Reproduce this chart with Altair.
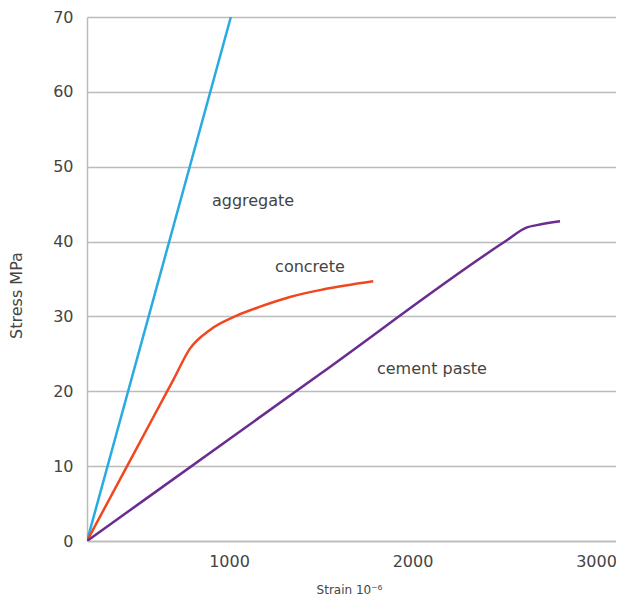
import altair as alt
import pandas as pd

# Data
aggregate_x = [226, 1010]
aggregate_y = [0, 70]

concrete_x = [226, 500, 700, 787, 896, 1042, 1169, 1332, 1512, 1786]
concrete_y = [0, 12.55, 21.7, 25.7, 28.2, 30.1, 31.3, 32.6, 33.6, 34.7]

paste_x = [226, 1500, 2504, 2624, 2677, 2804]
paste_y = [0, 22.37, 40.0, 41.9, 42.2, 42.7]

label_text = ["aggregate", "concrete", "cement paste"]
label_x = [1131, 1441, 2106]
label_y = [45.4, 36.6, 23.0]

series_names = ["aggregate", "concrete", "cement paste"]
series_colors = ["#29ABE2", "#F1471F", "#6A2C91"]

rows = []
for name, xs, ys in [("aggregate", aggregate_x, aggregate_y),
                     ("concrete", concrete_x, concrete_y),
                     ("cement paste", paste_x, paste_y)]:
    for i, (a, b) in enumerate(zip(xs, ys)):
        rows.append({"series": name, "order": i, "strain": a, "stress": b})
df = pd.DataFrame(rows)
labels = pd.DataFrame({"text": label_text, "strain": label_x, "stress": label_y})

FONT = "DejaVu Sans"
TXT = "#444444"
xscale = alt.Scale(domain=[226, 3109], nice=False, zero=False)
yscale = alt.Scale(domain=[0, 70], nice=False)

lines = alt.Chart(df).mark_line(strokeWidth=2.5, clip=True, interpolate="monotone").encode(
    x=alt.X("strain:Q", scale=xscale,
            axis=alt.Axis(title="Strain 10⁻⁶", values=[1000, 2000, 3000], grid=False,
                          format="d",
                          ticks=False, domainColor="#bbbbbb", domainWidth=1.5,
                          labelFontSize=16, labelColor=TXT, labelPadding=12,
                          labelFontWeight="normal",
                          titleFontSize=12, titleFontWeight="normal", titleColor=TXT,
                          titleY=55, titleX=262, titleBaseline="bottom",
                          labelFont=FONT, titleFont=FONT)),
    y=alt.Y("stress:Q", scale=yscale,
            axis=alt.Axis(title="Stress MPa", values=list(range(0, 71, 10)), grid=True,
                          gridColor="#bbbbbb", gridWidth=1.5, ticks=False,
                          domainColor="#bbbbbb", domainWidth=1.5,
                          labelFontSize=16, labelColor=TXT, labelPadding=14,
                          labelFontWeight="normal",
                          titleFontSize=16, titleFontWeight="normal", titleColor=TXT,
                          titleX=-63, titleY=278, labelFont=FONT, titleFont=FONT)),
    color=alt.Color("series:N", scale=alt.Scale(domain=series_names, range=series_colors),
                    legend=None),
    order="order:Q",
)

text = alt.Chart(labels).mark_text(fontSize=16, color=TXT, font=FONT,
                                   fontWeight="normal").encode(
    x=alt.X("strain:Q", scale=xscale),
    y=alt.Y("stress:Q", scale=yscale),
    text="text:N",
)

chart = (lines + text).properties(
    width=529, height=524,
    autosize=alt.AutoSizeParams(type="none"),
    padding={"left": 79, "top": 9, "right": 0, "bottom": 55},
).configure_view(stroke=None)

chart.save("out.html", embed_options={"renderer": "svg", "actions": False})
